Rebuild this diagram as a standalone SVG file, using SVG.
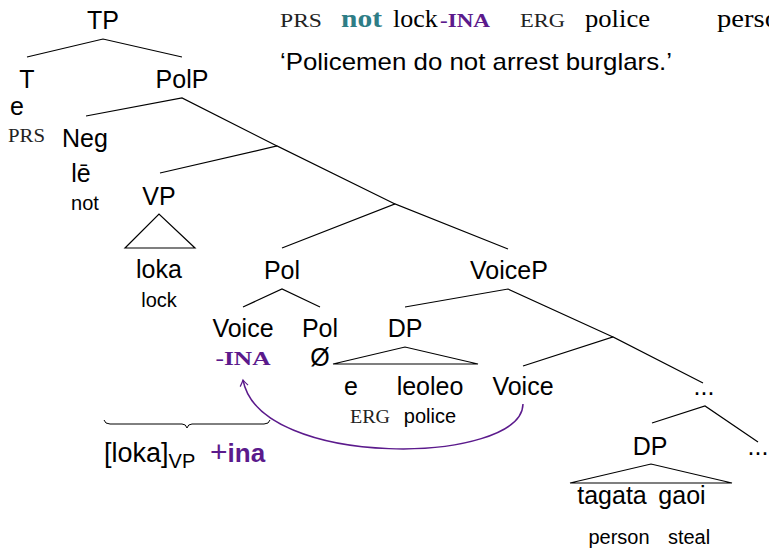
<svg xmlns="http://www.w3.org/2000/svg" width="769" height="549" viewBox="0 0 769 549">
<style>
.n{font-family:"Liberation Sans",Arial,sans-serif;font-size:25px;fill:#000;text-anchor:middle}
.g{font-family:"Liberation Sans",Arial,sans-serif;font-size:20px;fill:#000;text-anchor:middle}
.sc{font-family:"Liberation Serif","Times New Roman",serif;font-size:18px;fill:#222}
.sr{font-family:"Liberation Serif","Times New Roman",serif;font-size:26px;fill:#000}
.pb{font-family:"Liberation Serif","Times New Roman",serif;font-weight:bold;font-size:18px;fill:#5B1A8C}
.e{fill:none;stroke:#000;stroke-width:1.2}
.arc{fill:none;stroke:#5B1A8C;stroke-width:1.5}
</style>
<defs>
<marker id="ah" viewBox="-8 -6 10 12" markerWidth="10" markerHeight="12" refX="0" refY="0" orient="auto" markerUnits="userSpaceOnUse">
<path d="M-6,-4 Q-2,-1 0,0 Q-2,1 -6,4" fill="none" stroke="#5B1A8C" stroke-width="1.2"/>
</marker>
</defs>

<g id="gloss">
<text class="sc" x="280" y="27" textLength="42" lengthAdjust="spacingAndGlyphs">PRS</text>
<text class="sr" x="341" y="27" style="font-weight:bold;fill:#2E7D86" textLength="41" lengthAdjust="spacingAndGlyphs">not</text>
<text class="sr" x="393" y="27">lock</text>
<text class="pb" x="440" y="27" textLength="50" lengthAdjust="spacingAndGlyphs">-INA</text>
<text class="sc" x="520" y="27" textLength="45" lengthAdjust="spacingAndGlyphs">ERG</text>
<text class="sr" x="585" y="27" textLength="65" lengthAdjust="spacingAndGlyphs">police</text>
<text class="sr" x="717" y="27" textLength="62" lengthAdjust="spacingAndGlyphs">perso</text>
<text x="280" y="70" style="font-family:'Liberation Sans',Arial,sans-serif;font-size:24px" textLength="392" lengthAdjust="spacingAndGlyphs">‘Policemen do not arrest burglars.’</text>
</g>

<g id="connectors">
<polyline class="e" points="27,57 103,39 182,57"/>
<polyline class="e" points="86,116 182,98 277,146"/>
<polyline class="e" points="160,173 277,146 395,204"/>
<polyline class="e" points="282,248 395,204 508,249"/>
<polyline class="e" points="405,307 508,289 613,337"/>
<polyline class="e" points="523,366 613,337 703,383"/>
<polyline class="e" points="243,307 282,289 320,307"/>
<polyline class="e" points="652,423 705,406 758,442"/>
<polygon class="e" points="125,248 159,214 195,248"/>
<polygon class="e" points="333,364 405,347 478,364"/>
<polygon class="e" points="570,483 651,464 732,483"/>
<path class="arc" d="M523,404 C522,465 260,470 243,380" marker-end="url(#ah)"/>
<path d="M104,420 Q105,424 110,424 L182,424 Q186,424 187,428 Q188,424 192,424 L264,424 Q269,424 270,420" fill="none" stroke="#000" stroke-width="1"/>
</g>

<g id="TP"><text class="n" x="103" y="29">TP</text></g>
<g id="T"><text class="n" x="27" y="88">T</text><text class="n" x="17" y="115">e</text><text class="sc" x="8" y="142" textLength="37" lengthAdjust="spacingAndGlyphs">PRS</text></g>
<g id="PolP"><text class="n" x="182" y="88">PolP</text></g>
<g id="Neg"><text class="n" x="85" y="147">Neg</text><text class="n" x="81" y="182">lē</text><text class="g" x="85" y="210">not</text></g>
<g id="VP"><text class="n" x="159" y="205">VP</text><text class="n" x="159" y="278">loka</text><text class="g" x="159" y="307">lock</text></g>
<g id="Pol1"><text class="n" x="282" y="279">Pol</text></g>
<g id="VoiceP"><text class="n" x="509" y="279">VoiceP</text></g>
<g id="Voice1"><text class="n" x="243" y="337">Voice</text><text class="pb" x="243" y="365" text-anchor="middle" textLength="55" lengthAdjust="spacingAndGlyphs">-INA</text></g>
<g id="Pol2"><text class="n" x="320" y="337">Pol</text><text class="n" x="320" y="366">Ø</text></g>
<g id="DP1"><text class="n" x="405" y="337">DP</text>
<text class="n" x="351" y="395">e</text><text class="n" x="430" y="395">leoleo</text>
<text class="sc" x="350" y="423" textLength="40" lengthAdjust="spacingAndGlyphs">ERG</text><text class="g" x="430" y="423">police</text></g>
<g id="Voice2"><text class="n" x="523" y="395">Voice</text></g>
<g id="dots1"><text class="n" x="704" y="395">...</text></g>
<g id="DP2"><text class="n" x="650" y="455">DP</text>
<text class="n" x="612" y="504">tagata</text><text class="n" x="682" y="504">gaoi</text>
<text class="g" x="619" y="544">person</text><text class="g" x="689" y="544">steal</text></g>
<g id="dots2"><text class="n" x="758" y="455">...</text></g>
<g id="result"><text x="104" y="462" style="font-family:'Liberation Sans',Arial,sans-serif;font-size:27px">[loka]<tspan dy="6" font-size="20">VP</tspan></text>
<text x="210" y="462" style="font-family:'Liberation Sans',Arial,sans-serif;font-size:26px;font-weight:bold;fill:#5B1A8C"><tspan font-weight="normal" font-size="30">+</tspan>ina</text></g>
</svg>
